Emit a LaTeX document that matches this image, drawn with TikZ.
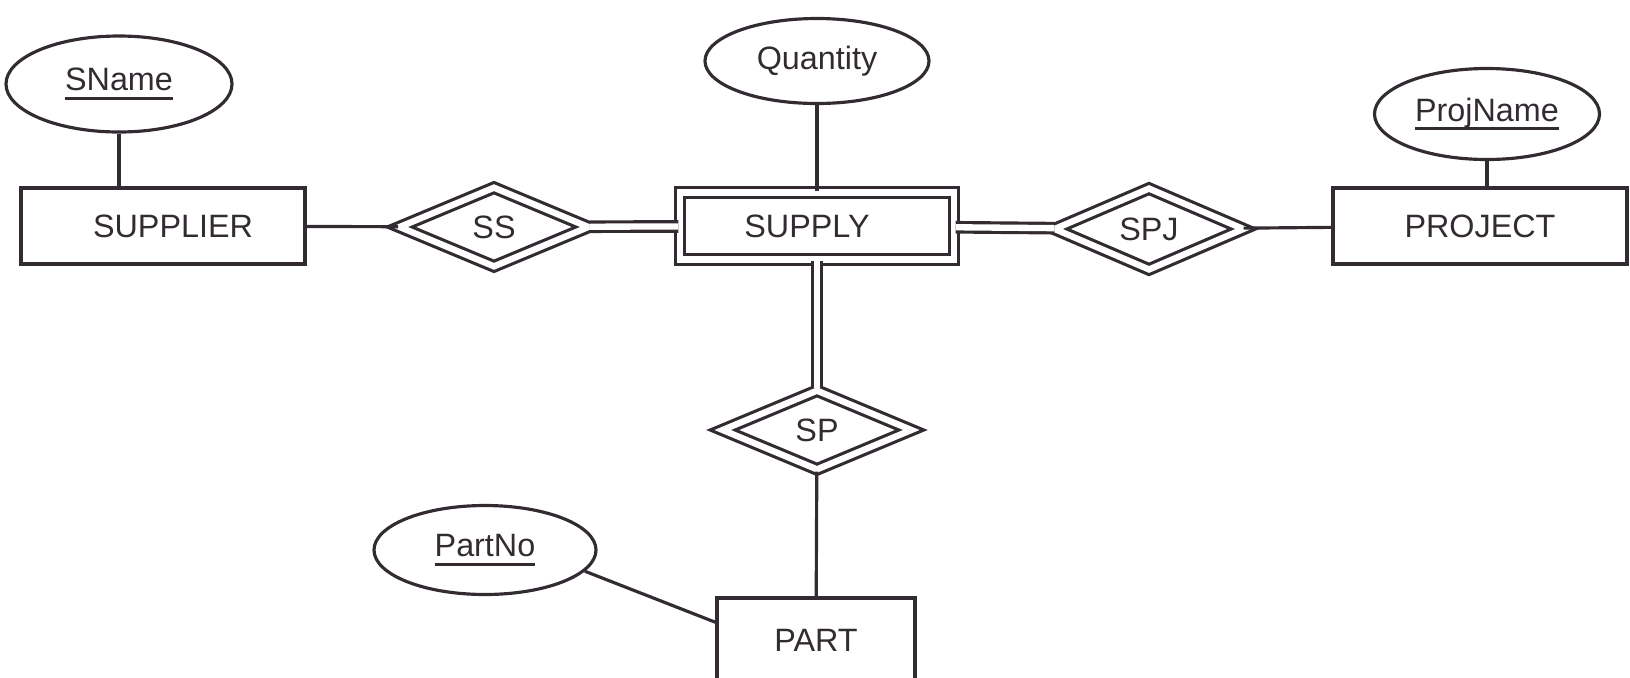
\documentclass[tikz,border=0pt]{standalone}
\usepackage{fontspec}
\setmainfont{Liberation Sans}
\usetikzlibrary{shapes.geometric}
\definecolor{ink}{RGB}{50,44,50}
\newcommand{\keyname}[1]{\setbox0\hbox{#1}\rlap{\rule[-2.6pt]{\wd0}{0.9pt}}\box0}
\tikzset{
  entity/.style={draw,minimum width=2.84cm,minimum height=0.76cm,inner sep=0pt},
  weakentity/.style={entity,double,double distance=1.8pt,minimum width=2.74cm,minimum height=0.67cm},
  relation/.style={diamond,draw,double,double distance=1.8pt,minimum width=1.90cm,minimum height=0.80cm,inner sep=0pt},
  attr/.style={ellipse,draw,minimum width=2.24cm,minimum height=0.88cm,inner sep=0pt},
  total/.style={double,double distance=1.8pt}
}

\begin{document}
\begin{tikzpicture}[line width=0.9pt,draw=ink,text=ink,font=\fontsize{9.2}{11}\selectfont]
    \useasboundingbox (0,0) rectangle (16.3,6.77);
    \node[attr,minimum width=2.26cm,minimum height=0.96cm] (sname) at (1.19,5.93) {\keyname{SName}};
    \node[entity] (supplier) at (1.63,4.51) {\hspace*{0.2cm}SUPPLIER};
    \node[relation] (ss) at (4.94,4.50) {SS};
    \node[weakentity] (supply) at (8.17,4.51) {SUPPLY\hspace*{0.2cm}};
    \node[attr,minimum height=0.85cm] (quantity) at (8.17,6.16) {Quantity};
    \node[relation] (spj) at (11.49,4.48) {SPJ};
    \node[entity,minimum width=2.94cm] (project) at (14.80,4.51) {PROJECT};
    \node[attr,minimum width=2.25cm,minimum height=0.91cm] (projname) at (14.87,5.63) {\keyname{ProjName}};
    \node[relation] (sp) at (8.17,2.47) {SP};
    \node[entity,minimum width=1.98cm,minimum height=0.84cm] (part) at (8.16,0.37) {PART};
    \node[attr,minimum width=2.22cm,minimum height=0.89cm] (partno) at (4.85,1.27) {\keyname{PartNo}};

    \draw (sname.south) -- (sname.south |- supplier.north);
    \draw (supplier) -- (ss);
    \draw[total] (ss) -- (supply);
    \draw (quantity) -- (supply);
    \draw[total] (supply) -- (spj);
    \draw (spj) -- (project);
    \draw (projname.south) -- (projname.south |- project.north);
    \draw[total] (supply) -- (sp);
    \draw (sp) -- (part);
    \draw (partno.-12) -- (part.170);
\end{tikzpicture}
\end{document}
